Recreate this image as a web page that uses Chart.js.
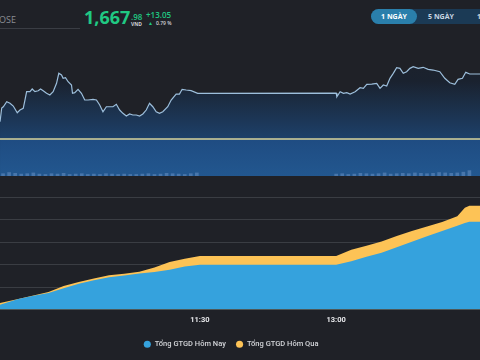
<!DOCTYPE html>
<html>
<head>
<meta charset="utf-8">
<script src="https://cdn.jsdelivr.net/npm/chart.js@4.4.1/dist/chart.umd.min.js"></script>
<style>
  html, body { margin: 0; padding: 0; background: #1f2127; }
  body { width: 480px; height: 360px; overflow: hidden; position: relative; font-family: "Open Sans", sans-serif; }
  .abs { position: absolute; white-space: nowrap; }
  .green { color: #20c983; }
  #priceBox { position: absolute; left: -18px; top: 30px; width: 498px; height: 146px; }
  #gtgdBox { position: absolute; left: -18px; top: 190px; width: 498px; height: 170px; }
  .tabs { position: absolute; left: 371px; top: 9px; width: 130px; height: 15px; background: #1b3a55; border-radius: 8px; }
  .tab { position: absolute; top: 0; height: 15px; line-height: 15px; font-size: 7px; font-weight: 700; color: #c9d6e2; text-align: center; }
  .tab.on { background: #2a7fab; color: #fff; border-radius: 8px; }
</style>
</head>
<body>
<div class="abs" style="left:-1px;top:13px;font-size:9px;color:#8b8e94;">OSE</div>
<div class="abs" style="left:0;top:28px;width:80px;height:1px;background:#3a3d44;"></div>
<div class="abs green" style="left:84px;top:5px;font-size:18px;font-weight:700;">1,667</div>
<div class="abs green" style="left:131px;top:11px;font-size:8px;font-weight:600;">.98</div>
<div class="abs" style="left:131px;top:21px;font-size:5px;font-weight:700;color:#cfd2d6;">VND</div>
<div class="abs green" style="left:146px;top:9px;font-size:8px;font-weight:600;">+13.05</div>
<div class="abs green" style="left:148px;top:20px;font-size:5px;">▲</div>
<div class="abs" style="left:156px;top:20px;font-size:5px;font-weight:600;color:#cfd2d6;">0.79 %</div>
<div class="tabs">
  <div class="tab on" style="left:0;width:46px;">1 NGÀY</div>
  <div class="tab" style="left:52px;width:36px;">5 NGÀY</div>
  <div class="tab" style="left:101px;width:40px;">10 NGÀY</div>
</div>

<div id="priceBox"><canvas id="priceChart"></canvas></div>
<div id="gtgdBox"><canvas id="gtgdChart"></canvas></div>

<script>
// Index line (VN-Index intraday)
const priceTimes = ['09:18:00','09:19:07','09:20:10','09:22:25','09:24:35','09:26:45','09:29:23','09:31:10','09:33:20','09:34:28',
  '09:35:35','09:37:45','09:39:16','09:41:02','09:43:13','09:44:47','09:46:30','09:48:44','09:50:55','09:53:05',
  '09:55:20','09:56:50','09:58:37','09:59:40','10:01:15','10:02:58','10:05:12','10:05:52','10:07:22','10:09:32',
  '10:11:47','10:13:57','10:16:08','10:19:25','10:21:40','10:23:50','10:26:00','10:28:14','10:30:25','10:32:35',
  '10:34:49','10:37:00','10:39:10','10:41:25','10:43:35','10:45:45','10:47:59','10:50:10','10:52:20','10:54:34',
  '10:56:45','10:58:55','11:01:10','11:03:20','11:05:30','11:08:47','11:11:02','11:14:19','11:16:30','11:18:16',
  '11:20:55','11:24:12','11:28:32','11:30:00','13:00:00','13:00:28','13:02:38','13:04:48','13:07:03','13:09:13',
  '13:12:31','13:15:48','13:17:58','13:20:13','13:23:30','13:26:47','13:28:58','13:31:08','13:33:23','13:35:33',
  '13:37:43','13:39:58','13:42:08','13:44:19','13:46:32','13:48:43','13:50:53','13:54:11','13:57:28','14:00:46',
  '14:04:03','14:08:28','14:11:45','14:15:02','14:18:20','14:20:31','14:23:24','14:25:35','14:28:13','14:35:00'];
const priceValues = [1658.40,1661.15,1661.41,1662.42,1662.10,1661.55,1660.21,1660.75,1661.09,1662.76,
  1664.43,1664.43,1664.97,1664.43,1664.63,1664.97,1664.63,1664.10,1663.76,1664.43,
  1666.11,1668.12,1667.78,1667.12,1667.24,1666.43,1665.77,1664.10,1664.23,1664.91,
  1664.10,1662.76,1662.76,1662.90,1662.76,1661.76,1660.41,1661.41,1661.41,1661.41,
  1661.90,1660.75,1660.09,1659.55,1659.95,1659.75,1659.75,1659.55,1659.95,1660.75,
  1662.10,1661.41,1660.41,1660.09,1660.41,1661.41,1662.76,1663.96,1663.96,1664.91,
  1664.77,1664.63,1664.10,1664.10,1664.15,1663.42,1664.43,1664.10,1664.23,1663.96,
  1664.43,1665.23,1665.11,1665.91,1665.97,1666.11,1665.11,1665.77,1665.57,1667.12,
  1668.12,1669.24,1669.12,1668.12,1668.44,1669.12,1669.45,1669.12,1669.33,1668.92,
  1668.78,1668.44,1667.12,1666.23,1665.91,1666.92,1667.12,1668.32,1667.98,1667.98];
const refPrice = 1654.93;

// Volume (million shares)
const volTimes = ['09:20','09:24','09:28','09:32','09:36','09:40','09:44','09:48','09:52','09:56','10:00',
  '10:04','10:08','10:12','10:16','10:20','10:24','10:28','10:32','10:36','10:40','10:44','10:48','10:52','10:56',
  '11:00','11:04','11:08','11:12','11:16','11:20','11:24','11:28',
  '13:00','13:04','13:08','13:12','13:16','13:20','13:24','13:28','13:32','13:36','13:40','13:44','13:48','13:52',
  '13:56','14:00','14:04','14:08','14:12','14:16','14:20','14:24','14:28'];
const volValues = [6,9,7,5,6,8,5,4,6,5,7,4,5,6,4,5,4,6,5,4,5,4,4,5,6,4,5,7,6,5,4,6,8,
  5,6,4,5,7,6,5,6,8,5,6,7,6,8,7,6,7,9,8,7,8,10,14];

// Cumulative trading value (billion VND)
const gtgdTimes = ['09:18','09:30','09:40','09:50','10:00','10:10','10:20','10:30','10:40','10:50','11:00','11:10','11:20',
  '11:30','13:00','13:10','13:20','13:30','13:40','13:50','14:00','14:10','14:20','14:25','14:28','14:35'];
const todayValues = [1064,2360,3050,3690,4730,5750,6520,7160,7570,7980,8360,8840,9540,
  9936,9936,10700,11700,12600,13840,15050,16270,17450,18620,19220,19511,19511];
const prevValues = [1426,2340,3100,3870,5230,6130,6900,7630,7970,8390,9350,10580,11300,
  11870,11900,13260,14160,15100,16320,17450,18460,19420,20700,22600,23043,23043];

const seriesNames = ['Tổng GTGD Hôm Nay', 'Tổng GTGD Hôm Qua'];
const tickLabels = ['11:30', '13:00'];

// minutes after 09:00
function toMin(s) {
  const p = s.split(':').map(Number);
  return (p[0] - 9) * 60 + p[1] + (p[2] || 0) / 60;
}
const X_MIN = 6.1;
const X_MAX = 335;

Chart.defaults.font.family = 'Roboto, "Open Sans", sans-serif';
Chart.defaults.animation = false;

function pts(times, values) {
  return times.map((t, i) => ({ x: toMin(t), y: values[i] }));
}

function priceFill(ctx) {
  const chart = ctx.chart;
  const a = chart.chartArea;
  if (!a) return 'transparent';
  const g = chart.ctx.createLinearGradient(0, a.top, 0, a.bottom);
  const f = (chart.scales.y.getPixelForValue(refPrice) - a.top) / (a.bottom - a.top);
  g.addColorStop(0, '#1f2128');
  g.addColorStop(0.35, '#1a222f');
  g.addColorStop(f - 0.005, '#1d4069');
  g.addColorStop(f + 0.005, '#1f4c82');
  g.addColorStop(1, '#22578f');
  return g;
}

new Chart(document.getElementById('priceChart'), {
  type: 'line',
  data: {
    datasets: [{
      data: pts(priceTimes, priceValues),
      borderColor: '#9dbfdc',
      borderWidth: 1.2,
      pointRadius: 0,
      fill: 'start',
      backgroundColor: priceFill,
      order: 3
    }, {
      data: [{ x: X_MIN, y: refPrice }, { x: X_MAX, y: refPrice }],
      borderColor: '#d8d39a',
      borderWidth: 1.5,
      pointRadius: 0,
      fill: false,
      order: 1
    }, {
      type: 'bar',
      data: pts(volTimes, volValues),
      backgroundColor: 'rgba(110,150,200,0.5)',
      barThickness: 3,
      yAxisID: 'yv',
      order: 2
    }]
  },
  options: {
    responsive: true,
    maintainAspectRatio: false,
    layout: { padding: 0 },
    plugins: { legend: { display: false }, tooltip: { enabled: false } },
    scales: {
      x: { type: 'linear', min: X_MIN, max: X_MAX, offset: false, display: false },
      y: { min: 1647.5, max: 1676.82, display: false },
      yv: { min: 0, max: 380, display: false }
    }
  }
});

new Chart(document.getElementById('gtgdChart'), {
  type: 'line',
  data: {
    datasets: [{
      label: seriesNames[0],
      data: pts(gtgdTimes, todayValues),
      borderWidth: 0,
      borderColor: '#35a2dd',
      backgroundColor: '#35a2dd',
      pointRadius: 0,
      fill: 'start'
    }, {
      label: seriesNames[1],
      data: pts(gtgdTimes, prevValues),
      borderWidth: 0,
      borderColor: '#fdc356',
      backgroundColor: '#fdc356',
      pointRadius: 0,
      fill: 'start'
    }]
  },
  options: {
    responsive: true,
    maintainAspectRatio: false,
    layout: { padding: { top: 7, bottom: 2, left: 0, right: 0 } },
    plugins: {
      tooltip: { enabled: false },
      legend: {
        position: 'bottom',
        labels: {
          usePointStyle: true,
          pointStyle: 'circle',
          boxWidth: 8,
          boxHeight: 5,
          padding: 10,
          color: '#d3d5d9',
          font: { size: 7.5, weight: '500' }
        }
      }
    },
    scales: {
      x: {
        type: 'linear',
        min: X_MIN,
        max: X_MAX,
        grid: { display: false, drawTicks: false },
        border: { display: false },
        afterBuildTicks: (axis) => { axis.ticks = tickLabels.map(l => ({ value: toMin(l) })); },
        ticks: {
          padding: 6,
          color: '#e6e7ea',
          font: { size: 7.5, weight: '700' },
          callback: (v) => tickLabels.find(l => toMin(l) === v) || ''
        }
      },
      y: {
        min: 0,
        max: 25000,
        ticks: { display: false, stepSize: 5000 },
        grid: { color: '#3a3d43', drawTicks: false },
        border: { display: false }
      }
    }
  }
});
</script>
</body>
</html>
